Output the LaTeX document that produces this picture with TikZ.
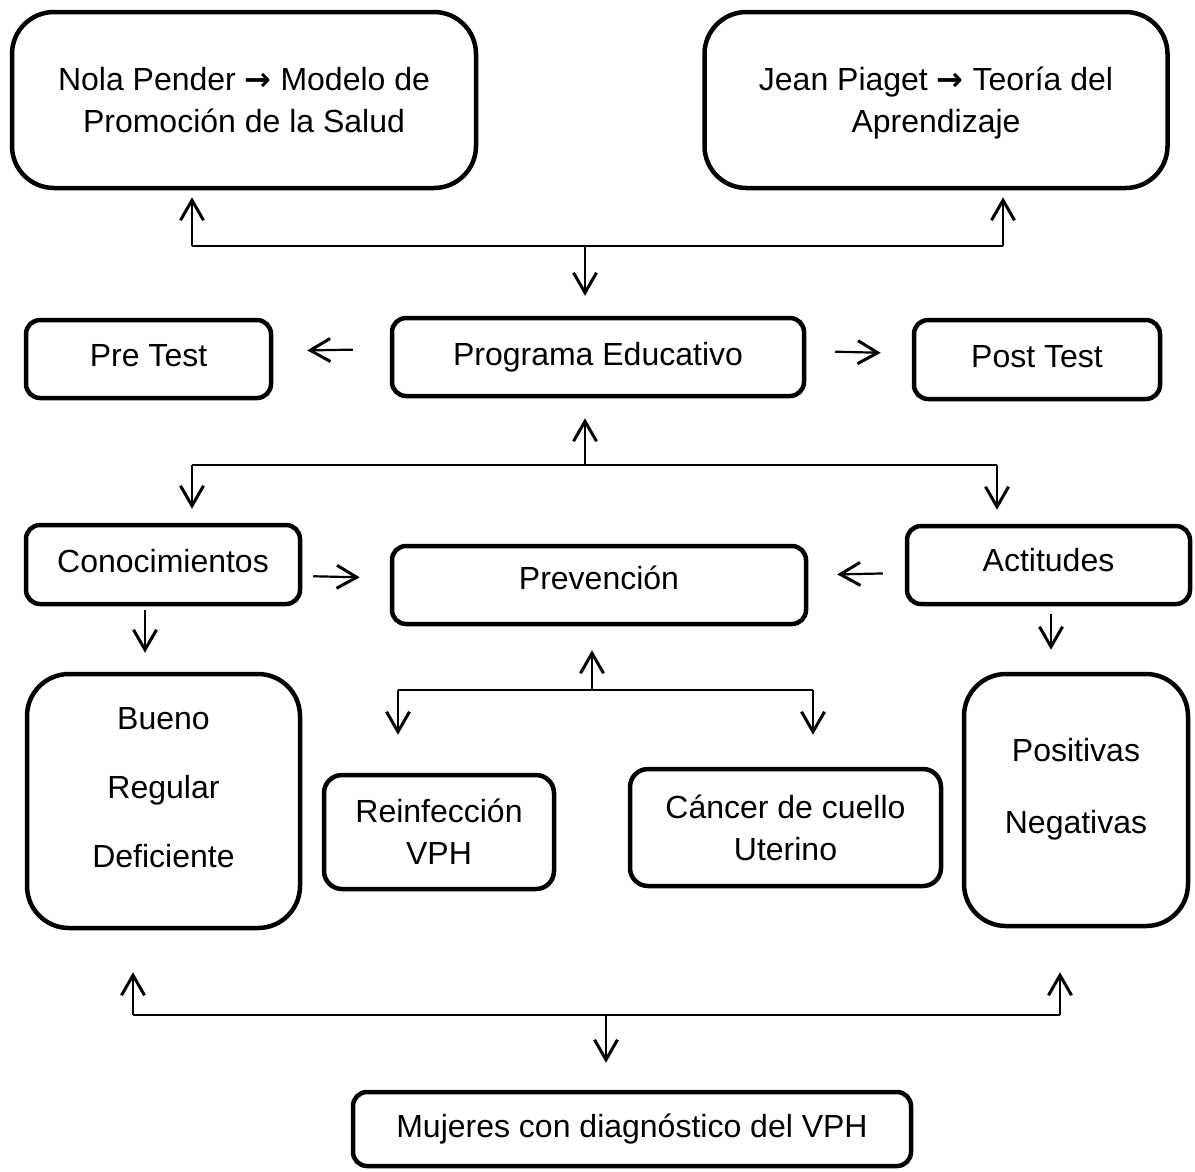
\documentclass[tikz,border=0pt]{standalone}
\usepackage{fontspec}
\setmainfont{Liberation Sans}
\newfontfamily\arrowfont{DejaVu Sans}
\usepackage{tikz}
\usetikzlibrary{arrows.meta, positioning, calc}

\begin{document}
\begin{tikzpicture}[
  x=1pt, y=-1pt,
  box/.style={draw, line width=4.5pt, rounded corners=14pt, inner sep=0pt, align=center, font=\fontsize{32}{42}\selectfont},
  bigbox/.style={box, rounded corners=42pt},
  arr/.style={-{Straight Barb[length=20pt, width=23pt, line width=3pt]}, line width=2.2pt, shorten >=7pt},
  ln/.style={line width=2.2pt}
]
\useasboundingbox (0,0) rectangle (1195,1171);

\node[bigbox, minimum width=464pt, minimum height=176pt] (nola) at (244,100) {Nola Pender {\arrowfont\bfseries →} Modelo de\\ Promoción de la Salud};
\node[bigbox, minimum width=463pt, minimum height=176pt, text depth=0pt] (jean) at (936,100) {Jean Piaget {\arrowfont\bfseries →} Teoría del\\ Aprendizaje};
\node[box, minimum width=245pt, minimum height=78pt, text depth=8pt] (pre) at (148.5,359) {Pre Test};
\node[box, minimum width=412pt, minimum height=78pt] (prog) at (598,357) {Programa Educativo};
\node[box, minimum width=246pt, minimum height=79pt, text depth=6pt] (post) at (1037,359.5) {Post Test};
\node[box, minimum width=274pt, minimum height=79pt, text depth=8pt] (cono) at (163,564.5) {Conocimientos};
\node[box, minimum width=414pt, minimum height=78pt, text depth=14pt] (prev) at (599,585) {Prevención};
\node[box, minimum width=283pt, minimum height=78pt, text depth=10pt] (acti) at (1048.5,565) {Actitudes};
\node[bigbox, minimum width=273pt, minimum height=254pt, text depth=28pt] (nivel) at (163.5,801) {Bueno\\[27pt] Regular\\[27pt] Deficiente};
\node[box, rounded corners=18pt, minimum width=230pt, minimum height=114pt] (reinf) at (439,832) {Reinfección\\ VPH};
\node[box, rounded corners=18pt, minimum width=311pt, minimum height=117pt] (cancer) at (785.5,827.5) {Cáncer de cuello\\ Uterino};
\node[bigbox, minimum width=224pt, minimum height=252pt, text depth=28pt] (tipo) at (1076,800) {Positivas\\[30pt] Negativas};
\node[box, minimum width=558pt, minimum height=74pt] (muj) at (632,1129) {Mujeres con diagnóstico del VPH};

% teorias
\coordinate (tj) at (585,246);
\coordinate (tl) at (192,246);
\coordinate (tr) at (1003,246);
\draw[ln] (tl) -- (tr);
\draw[arr] (tl) -- (tl |- nola.south);
\draw[arr] (tr) -- (tr |- jean.south);
\draw[arr, shorten >=20pt] (tj) -- (tj |- prog.north);
\draw[arr, shorten <=37pt, shorten >=34pt] ([yshift=8pt]prog.west) -- ([yshift=8pt]pre.east);
\draw[arr, shorten <=29pt, shorten >=31pt] ([yshift=6pt]prog.east) -- ([yshift=6pt]post.west);

% variables
\coordinate (mj) at (585,465);
\coordinate (ml) at (192,465);
\coordinate (mr) at (997,465);
\draw[ln] (ml) -- (mr);
\draw[arr, shorten >=20pt] (mj) -- (mj |- prog.south);
\draw[arr, shorten >=14pt] (ml) -- (ml |- cono.north);
\draw[arr, shorten >=14pt] (mr) -- (mr |- acti.north);
\draw[arr, shorten <=11pt, shorten >=30pt] ([yshift=-11.5pt]cono.east) -- ([yshift=7pt]prev.west);
\draw[arr, shorten <=22pt, shorten >=29pt] ([yshift=-8pt]acti.west) -- ([yshift=10pt]prev.east);

\coordinate (ca) at ([xshift=-18pt]cono.south);
\coordinate (aa) at ([xshift=2.5pt]acti.south);
\draw[arr, shorten <=4pt, shorten >=19pt] (ca) -- (ca |- nivel.north);
\draw[arr, shorten <=8pt, shorten >=22pt] (aa) -- (aa |- tipo.north);

% prevencion
\coordinate (pj) at (592,690);
\coordinate (pl) at (398,690);
\coordinate (pr) at (813,690);
\draw[ln] (pl) -- (pr);
\draw[arr, shorten >=24pt] (pj) -- (pj |- prev.south);
\draw[arr, shorten >=38pt] (pl) -- (pl |- reinf.north);
\draw[arr, shorten >=32pt] (pr) -- (pr |- cancer.north);

% poblacion
\coordinate (bj) at (606,1015);
\coordinate (bl) at (133,1015);
\coordinate (br) at (1060,1015);
\draw[ln] (bl) -- (br);
\draw[arr, shorten >=42pt] (bl) -- (bl |- nivel.south);
\draw[arr, shorten >=44pt] (br) -- (br |- tipo.south);
\draw[arr, shorten >=27pt] (bj) -- (bj |- muj.north);
\end{tikzpicture}
\end{document}
